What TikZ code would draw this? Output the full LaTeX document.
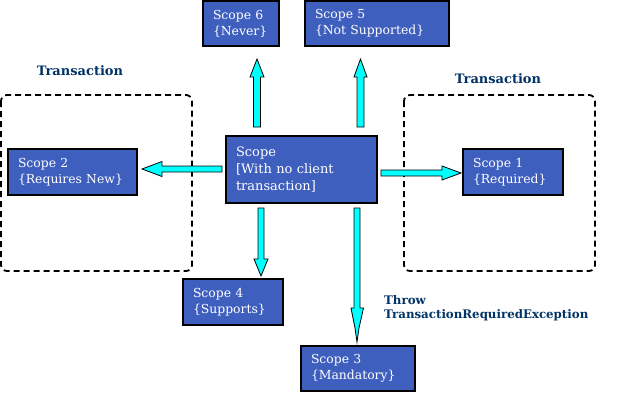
\documentclass[tikz,border=0pt]{standalone}
\usepackage{fontspec}
\setmainfont{DejaVu Serif}
\definecolor{boxblue}{RGB}{63,95,191}
\definecolor{lblue}{RGB}{0,51,102}
\definecolor{acyan}{RGB}{0,255,255}
\begin{document}
\begin{tikzpicture}[x=1pt,y=-1pt,
  scopebox/.style={draw=black, line width=1.2pt, fill=boxblue, text=white,
    font=\fontsize{12.4}{16}\selectfont, align=left, inner xsep=10pt, inner ysep=0pt},
  txlabel/.style={text=lblue, font=\bfseries\fontsize{12}{14}\selectfont, inner sep=0pt},
  txregion/.style={draw=black, line width=1.8pt, dash pattern=on 6pt off 4pt, rounded corners=6pt},
  blockarrow/.style={fill=acyan, draw=black, line width=0.8pt, line join=miter}]
\useasboundingbox[fill=white] (0,0) rectangle (626,408);
% transaction regions
\draw[txregion] (1,95) rectangle (192,271);
\draw[txregion] (404,95) rectangle (595,271);
\node[txlabel, font=\bfseries\fontsize{13}{14}\selectfont] (tl) at (80,71) {Transaction};
\node[txlabel, font=\bfseries\fontsize{13}{14}\selectfont] (tr) at (498,79) {Transaction};
% boxes
\node[scopebox, text width=56pt, minimum height=45pt] (s6) at (241,23.5) {Scope 6\\{\{}Never{\}}};
\node[scopebox, text width=124pt, minimum height=45pt] (s5) at (377,23.5) {Scope 5\\{\{}Not Supported{\}}};
\node[scopebox, text width=131pt, minimum height=67pt, font=\fontsize{13}{17}\selectfont] (c) at (301.5,169.5) {Scope\\{[}With no client\\transaction{]}};
\node[scopebox, text width=109pt, minimum height=46pt] (s2) at (72.5,172) {Scope 2\\{\{}Requires New{\}}};
\node[scopebox, text width=80pt, minimum height=46pt] (s1) at (513,172) {Scope 1\\{\{}Required{\}}};
\node[scopebox, text width=80pt, minimum height=46pt] (s4) at (233,302) {Scope 4\\{\{}Supports{\}}};
\node[scopebox, text width=94pt, minimum height=45pt] (s3) at (358,368.5) {Scope 3\\{\{}Mandatory{\}}};
\node[txlabel, anchor=west, align=left, font=\bfseries\fontsize{11.8}{14}\selectfont] (thr) at (384,308) {Throw\\TransactionRequiredException};
% arrows
% to Scope 2 (left)
\draw[blockarrow] (222,166) -- (162,166) -- (162,161.5) -- (142,169) -- (162,176.5) -- (162,172) -- (222,172) -- cycle;
% to Scope 1 (right)
\draw[blockarrow] (381,170) -- (442,170) -- (442,166) -- (461,173) -- (442,180) -- (442,176) -- (381,176) -- cycle;
% to Scope 6 (up)
\draw[blockarrow] (253.5,127) -- (253.5,77) -- (250,77) -- (257,59) -- (264,77) -- (260.5,77) -- (260.5,127) -- cycle;
% to Scope 5 (up)
\draw[blockarrow] (357,127) -- (357,77) -- (354,77) -- (360.5,59) -- (367,77) -- (364,77) -- (364,127) -- cycle;
% to Scope 4 (down)
\draw[blockarrow] (258,208) -- (258,259) -- (254,259) -- (261,276) -- (268,259) -- (264,259) -- (264,208) -- cycle;
% to Scope 3 (down)
\draw[blockarrow] (354,208) -- (354,308) -- (351,308) -- (355,328) -- (357,342) -- (359,328) -- (363.5,308) -- (360,308) -- (360,208) -- cycle;
\end{tikzpicture}
\end{document}
